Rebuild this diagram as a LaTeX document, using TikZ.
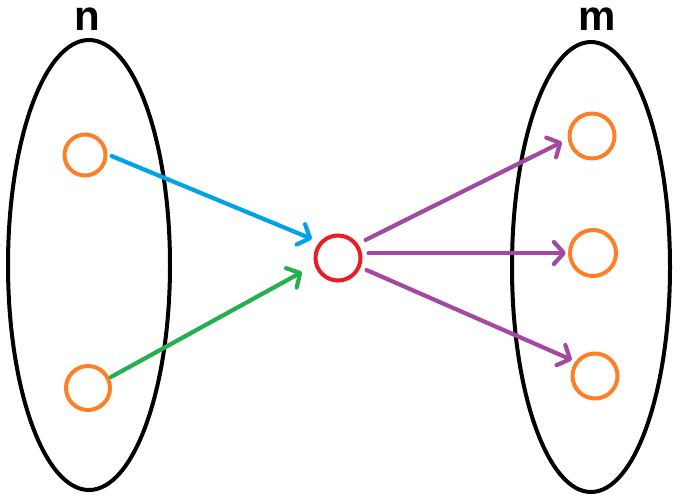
\documentclass[tikz,border=0pt]{standalone}
\usepackage{fontspec}
\setmainfont{Liberation Sans}
\usetikzlibrary{arrows.meta}
\definecolor{porange}{HTML}{FF7F27}
\definecolor{pblue}{HTML}{00A2E8}
\definecolor{pgreen}{HTML}{22B14C}
\definecolor{ppurple}{HTML}{A349A4}
\definecolor{pred}{HTML}{ED1C24}
\tikzset{
  unit/.style={circle, draw=porange, line width=4pt, inner sep=0pt},
  hub/.style={circle, draw=pred, line width=4pt, inner sep=0pt, minimum size=45pt},
  lbl/.style={font=\fontsize{42}{42}\selectfont\bfseries, inner sep=0pt, anchor=base},
  link/.style={line width=4.2pt, line cap=round, -{Straight Barb[length=10pt,width=22pt,line cap=round, line join=round]}}
}
\begin{document}
\begin{tikzpicture}[x=1pt,y=-1pt]
\useasboundingbox (0,0) rectangle (685,501);
\draw[line width=4pt] (89,265) ellipse [x radius=81, y radius=225];
\draw[line width=4pt] (591,267) ellipse [x radius=79, y radius=225];
\node[lbl] (n) at (87,30) {n};
\node[lbl] (m) at (597,30) {m};
\node[unit, minimum size=41pt] (a1) at (85,155) {};
\node[unit, minimum size=44pt] (a2) at (88,388) {};
\node[hub] (h) at (338,258) {};
\node[unit, minimum size=45pt] (b1) at (592,136) {};
\node[unit, minimum size=46pt] (b2) at (593,253) {};
\node[unit, minimum size=45pt] (b3) at (595,376) {};
\coordinate (e1) at (312,239);
\coordinate (e2) at (302,272);
\coordinate (e3) at (562,142);
\coordinate (e4) at (566,253);
\coordinate (e5) at (572,360);
\draw[link, draw=pblue] (a1.east) ++(4,1) -- (e1);
\draw[link, draw=pgreen] (a2.east) ++(-1,-11) -- (e2);
\draw[link, draw=ppurple] (h.east) ++(3,-18) -- (e3);
\draw[link, draw=ppurple] (h.east) ++(6,-5) -- (e4);
\draw[link, draw=ppurple] (h.east) ++(4,12) -- (e5);
\end{tikzpicture}
\end{document}
